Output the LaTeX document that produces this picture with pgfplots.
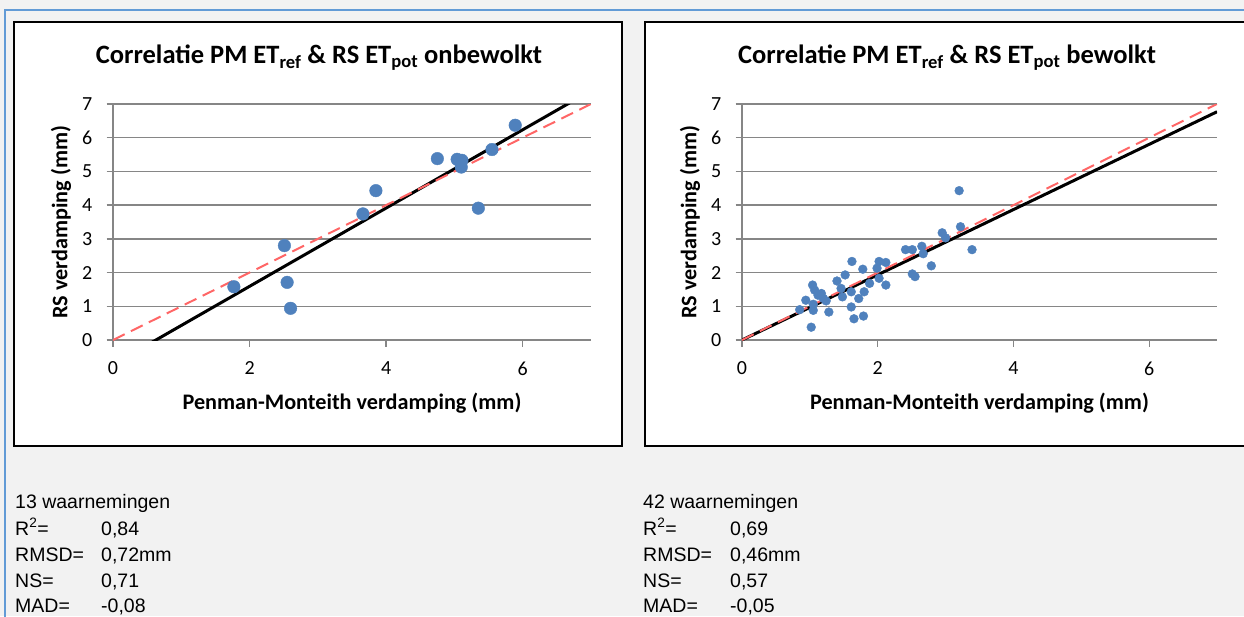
\documentclass[border=0pt]{standalone}
\usepackage{fontspec}
\setmainfont{Liberation Sans}
\newfontfamily\calibri{Carlito}
\usepackage{pgfplots}
\pgfplotsset{compat=1.18}
\definecolor{bgc}{RGB}{242,242,242}
\definecolor{bluel}{RGB}{98,155,214}
\definecolor{gridc}{RGB}{134,134,134}
\definecolor{mk}{RGB}{79,129,189}
\definecolor{rd}{RGB}{255,102,102}

\pgfplotstableread{
x y
1.77 1.58
2.51 2.80
2.55 1.71
2.60 0.94
3.66 3.74
3.85 4.43
4.75 5.38
5.04 5.36
5.11 5.33
5.10 5.13
5.35 3.91
5.55 5.65
5.89 6.37
}\onbewolkt

\pgfplotstableread{
x y
3.20 4.43
3.22 3.36
3.39 2.68
2.95 3.18
3.00 3.03
2.41 2.68
2.51 2.68
2.65 2.78
2.67 2.56
2.51 1.96
2.55 1.88
2.79 2.20
2.02 2.33
2.12 2.30
1.99 2.13
2.02 1.83
2.12 1.63
1.88 1.68
1.78 2.10
1.62 2.33
1.52 1.93
1.40 1.75
1.46 1.53
1.48 1.28
1.61 1.43
1.80 1.43
1.72 1.23
1.61 0.98
1.65 0.63
1.79 0.71
1.04 1.63
1.07 1.48
1.12 1.33
1.17 1.38
1.24 1.16
1.28 0.83
0.94 1.18
0.85 0.90
1.05 0.88
1.02 0.38
1.05 1.06
1.20 1.23
}\bewolkt

\pgfplotsset{myax/.style={
  scale only axis, width=478pt, height=236pt, anchor=south west,
  xmin=0, xmax=7, ymin=0, ymax=7,
  xtick={0,2,4,6}, ytick={0,1,...,7},
  axis lines=left, axis line style={-, gridc, line width=1.3pt},
  ymajorgrids, major grid style={gridc, line width=1.3pt},
  tick align=outside, major tick length=6.5pt,
  major tick style={gridc, line width=1.3pt},
  /pgf/number format/assume math mode=true,
  ticklabel style={font=\calibri\fontsize{20}{22}\selectfont, inner sep=0pt},
  yticklabel style={anchor=east, xshift=-14pt},
  xticklabel style={anchor=north, yshift=-15pt},
  label style={font=\calibri\bfseries\fontsize{22.2}{25}\selectfont},
  xlabel={Penman-Monteith verdamping (mm)},
  ylabel={RS verdamping (mm)},
  xlabel style={at={([yshift=-63pt]axis description cs:0.5,0)}, anchor=center},
  ylabel style={at={([xshift=-52pt]axis description cs:0,0.5)}, anchor=center},
  clip=true,
}}

\begin{document}
\begin{tikzpicture}
\clip (0pt,0pt) rectangle (1244pt,-616pt);
\fill[bgc] (0pt,0pt) rectangle (1244pt,-616pt);
\draw[bluel, line width=2pt] (5pt,-620pt) -- (5pt,-10pt) -- (1250pt,-10pt);
\draw[black, line width=1.6pt, fill=white] (14pt,-22pt) rectangle (622pt,-446pt);
\draw[black, line width=1.6pt, fill=white] (645pt,-22pt) rectangle (1260pt,-446pt);

\node[font=\calibri\bfseries\fontsize{26.5}{30}\selectfont, anchor=center] at (319pt,-58pt)
  {Correlatie PM ET\textsubscript{ref} \& RS ET\textsubscript{pot} onbewolkt};
\node[font=\calibri\bfseries\fontsize{26.5}{30}\selectfont, anchor=center] at (947pt,-58pt)
  {Correlatie PM ET\textsubscript{ref} \& RS ET\textsubscript{pot} bewolkt};

\begin{axis}[myax, at={(113pt,-340pt)}]
\addplot[only marks, mark=*, mark size=6.3pt, mark options={fill=mk, draw=mk}] table[x=x,y=y] {\onbewolkt};
\addplot[black, line width=3pt] coordinates {(0,-0.73) (7,7.397)};
\addplot[rd, line width=2pt, dash pattern=on 13pt off 7pt] coordinates {(0,0) (7,7)};
\end{axis}

\begin{axis}[myax, at={(742pt,-340pt)}, width=475pt]
\addplot[only marks, mark=*, mark size=4.4pt, mark options={fill=mk, draw=mk}] table[x=x,y=y] {\bewolkt};
\addplot[black, line width=3pt] coordinates {(0,0) (7,6.77)};
\addplot[rd, line width=2pt, dash pattern=on 13pt off 7pt] coordinates {(0,0) (7,7)};
\end{axis}

\begin{scope}[every node/.style={anchor=base west, inner sep=0pt, font=\fontsize{19.5}{22}\selectfont}]
\node at (15pt,-508pt) {13 waarnemingen};
\node at (15pt,-535pt) {R\textsuperscript{2}=};
\node at (101pt,-535pt) {0,84};
\node at (15pt,-561pt) {RMSD=};
\node at (101pt,-561pt) {0,72mm};
\node at (15pt,-587pt) {NS=};
\node at (101pt,-587pt) {0,71};
\node at (15pt,-612pt) {MAD=};
\node at (101pt,-612pt) {-0,08};
\node at (643pt,-508pt) {42 waarnemingen};
\node at (643pt,-535pt) {R\textsuperscript{2}=};
\node at (730pt,-535pt) {0,69};
\node at (643pt,-561pt) {RMSD=};
\node at (730pt,-561pt) {0,46mm};
\node at (643pt,-587pt) {NS=};
\node at (730pt,-587pt) {0,57};
\node at (643pt,-612pt) {MAD=};
\node at (730pt,-612pt) {-0,05};
\end{scope}
\end{tikzpicture}
\end{document}
